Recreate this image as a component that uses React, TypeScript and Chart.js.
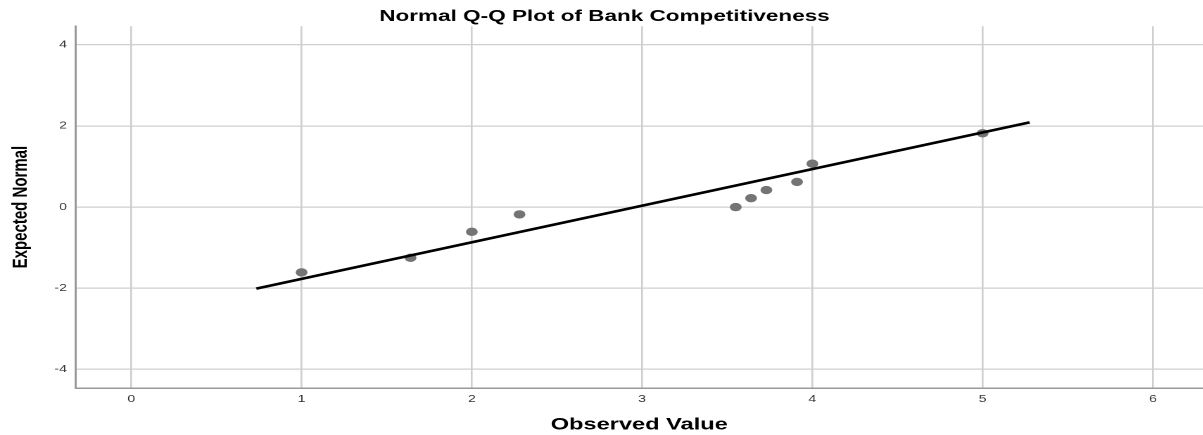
import React, { useEffect, useRef } from "react";
import { Chart, registerables } from "chart.js";

Chart.register(...registerables);

// ---- data ----
const observed = [1.0, 1.64, 2.0, 2.28, 3.55, 3.64, 3.73, 3.91, 4.0, 5.0];
const expected = [-1.61, -1.25, -0.61, -0.18, 0.0, 0.22, 0.42, 0.62, 1.07, 1.82];
const lineX = [0.734, 5.276];
const lineY = [-2.01, 2.09];
const xTicks = [0, 1, 2, 3, 4, 5, 6];
const yTicks = [-4, -2, 0, 2, 4];
const xRange = [-0.329, 6.295];
const yRange = [-4.46, 4.46];
const chartTitle = "Normal Q-Q Plot of Bank Competitiveness";
const xTitle = "Observed Value";
const yTitle = "Expected Normal";

// ---- presentation ----
const VIEW_W = 1203;
const VIEW_H = 435;
const STRETCH = 1.4; // the reference is horizontally stretched
const CANVAS_W = Math.round(VIEW_W / STRETCH);
const FONT = "'Liberation Sans', Arial, Helvetica, sans-serif";

export default function App() {
  const ref = useRef<HTMLCanvasElement | null>(null);

  useEffect(() => {
    const canvas = ref.current;
    if (!canvas) return;
    const points = observed.map((x, i) => ({ x, y: expected[i] }));
    const line = lineX.map((x, i) => ({ x, y: lineY[i] }));

    const chart = new Chart(canvas, {
      type: "scatter",
      data: {
        datasets: [
          {
            label: "Observed",
            data: points,
            pointRadius: 4.2,
            pointBackgroundColor: "#747474",
            pointBorderWidth: 0,
            pointBorderColor: "#747474",
            showLine: false,
            order: 2,
          },
          {
            label: "Fit",
            data: line,
            showLine: true,
            borderColor: "#000000",
            borderWidth: 2.6,
            pointRadius: 0,
            order: 1,
          },
        ],
      },
      options: {
        animation: false,
        responsive: false,
        devicePixelRatio: 2,
        layout: { padding: 0 },
        plugins: {
          legend: { display: false },
          tooltip: { enabled: false },
          title: {
            display: true,
            text: chartTitle,
            color: "#000000",
            font: { family: FONT, size: 16, weight: "bold" },
            padding: { top: 7, bottom: 0 },
          },
        },
        scales: {
          x: {
            type: "linear",
            position: "bottom",
            min: xRange[0],
            max: xRange[1],
            afterBuildTicks: (s: any) => {
              s.ticks = xTicks.map((v) => ({ value: v }));
            },
            afterFit: (s: any) => {
              s.height = 47;
            },
            ticks: {
              autoSkip: false,
              maxRotation: 0,
              padding: 5,
              color: "#333333",
              font: { family: FONT, size: 10 },
            },
            grid: { color: "#cfcfcf", lineWidth: 1.3, drawTicks: false },
            border: { display: true, color: "#999999", width: 1.5 },
            title: {
              display: true,
              text: xTitle,
              color: "#000000",
              font: { family: FONT, size: 16.8, weight: "bold" },
              padding: { top: 0, bottom: 0 },
            },
          },
          y: {
            type: "linear",
            position: "left",
            min: yRange[0],
            max: yRange[1],
            afterBuildTicks: (s: any) => {
              s.ticks = yTicks.map((v) => ({ value: v }));
            },
            afterFit: (s: any) => {
              s.width = 53.5;
            },
            ticks: {
              autoSkip: false,
              padding: 6,
              color: "#333333",
              font: { family: FONT, size: 10 },
            },
            grid: { color: "#cfcfcf", lineWidth: 1.3, drawTicks: false },
            border: { display: true, color: "#999999", width: 1.5 },
            title: {
              display: true,
              text: yTitle,
              color: "#000000",
              font: { family: FONT, size: 15, weight: "bold" },
              padding: { top: 6, bottom: 0 },
            },
          },
        },
      },
    });

    // the reference plot area runs to the right edge of the picture
    const right = chart.chartArea ? chart.chartArea.right : CANVAS_W;
    if (right > 0 && right < CANVAS_W) {
      canvas.style.width = (VIEW_W * CANVAS_W) / right + "px";
    }

    return () => chart.destroy();
  }, []);

  return (
    <div
      style={{
        position: "fixed",
        left: 0,
        top: 0,
        width: VIEW_W,
        height: VIEW_H,
        overflow: "hidden",
        background: "#ffffff",
      }}
    >
      <canvas
        ref={ref}
        width={CANVAS_W}
        height={VIEW_H}
        style={{ width: VIEW_W + "px", height: VIEW_H + "px", display: "block" }}
      />
    </div>
  );
}
